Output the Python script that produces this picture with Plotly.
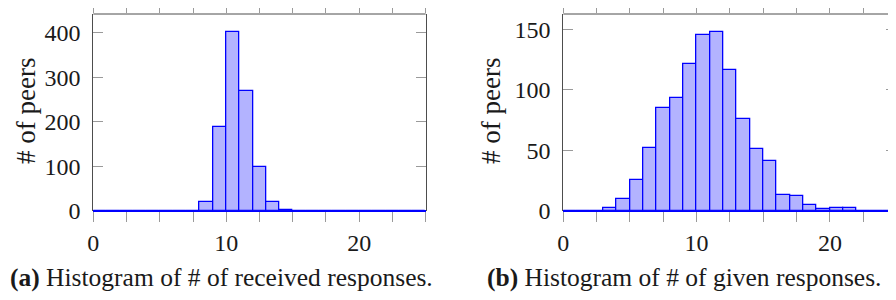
import plotly.graph_objects as go

# bins [k, k+1) for k = 0..24
bin_left = list(range(25))
received_counts = [0, 0, 0, 0, 0, 0, 0, 0, 20, 188, 402, 270, 98, 19, 2,
                   0, 0, 0, 0, 0, 0, 0, 0, 0, 0]
given_counts = [0, 0, 0, 2, 10, 25, 52, 85, 93, 121, 145, 148, 116, 76, 51,
                41, 13, 12, 5, 1, 2, 2, 0, 0, 0]

x_ticks = [0, 10, 20]
y_ticks_a = [0, 100, 200, 300, 400]
y_ticks_b = [0, 50, 100, 150]

# page body has an 8px margin; size the figure to the visible window
OFF = 8
W, H = 896 - OFF, 300 - OFF
FONT = "Liberation Serif"
TXT = "#1a1a1a"
FRAME = "#4d4d4d"
TICKC = "#9a9a9a"


def px(x):
    return (x - OFF) / W


def py(y):
    return 1 - (y - OFF) / H


fig = go.Figure()
bar_style = dict(marker=dict(color="rgb(179,179,255)",
                             line=dict(color="#0000ff", width=1.3)),
                 offset=0, width=1, showlegend=False, hoverinfo="skip")
fig.add_trace(go.Bar(x=bin_left, y=received_counts, xaxis="x", yaxis="y", **bar_style))
fig.add_trace(go.Bar(x=bin_left, y=given_counts, xaxis="x2", yaxis="y2", **bar_style))

ydom = [py(210.7), py(14)]
xdom1 = [px(93.3), px(425.7)]
xdom2 = [px(563.3), 1.0]
x2_end = (896 - 563.3) / (333.3 / 25)


def xax(dom, anchor, rng):
    return dict(domain=dom, anchor=anchor, range=rng, tickvals=x_ticks,
                ticks="outside", ticklen=10, tickwidth=1, tickcolor=TICKC,
                showline=False, mirror="ticks", automargin=False,
                showgrid=False, zeroline=False,
                minor=dict(dtick=2.5, ticks="outside", ticklen=10, tickwidth=1,
                           tickcolor=TICKC, showgrid=False),
                tickfont=dict(family=FONT, size=24, color=TXT), ticklabelstandoff=0)


def yax(dom, anchor, rng, tv):
    return dict(domain=dom, anchor=anchor, range=rng, tickvals=tv,
                ticks="inside", ticklen=10, tickwidth=1, tickcolor=TICKC,
                showline=True, linecolor=FRAME, linewidth=1, mirror="ticks",
                automargin=False, showgrid=False,
                zeroline=True, zerolinecolor="#0000ff", zerolinewidth=1.6,
                tickfont=dict(family=FONT, size=24, color=TXT), ticklabelstandoff=7)


fig.update_layout(
    width=W, height=H, margin=dict(l=0, r=0, t=0, b=0, autoexpand=False),
    paper_bgcolor="white", plot_bgcolor="white", bargap=0, showlegend=False,
    xaxis=xax(xdom1, "y", [0, 25]),
    yaxis=yax(ydom, "x", [0, 442], y_ticks_a),
    xaxis2=xax(xdom2, "y2", [0, x2_end]),
    yaxis2=yax(ydom, "x2", [0, 162.6], y_ticks_b),
    shapes=[
        dict(type="line", xref="x domain", yref="y domain", x0=0, x1=1, y0=1, y1=1,
             line=dict(color=FRAME, width=1)),
        dict(type="line", xref="x2 domain", yref="y2 domain", x0=0, x1=1, y0=1, y1=1,
             line=dict(color=FRAME, width=1)),
    ],
    annotations=[
        dict(text="# of peers", xref="paper", yref="paper", x=px(26), y=py(111),
             textangle=-90, showarrow=False, xanchor="center", yanchor="middle",
             font=dict(family=FONT, size=27, color=TXT)),
        dict(text="# of peers", xref="paper", yref="paper", x=px(491), y=py(111),
             textangle=-90, showarrow=False, xanchor="center", yanchor="middle",
             font=dict(family=FONT, size=27, color=TXT)),
        dict(text="<b>(a)</b> Histogram of # of received responses.", xref="paper", yref="paper",
             x=0, y=py(277), showarrow=False, xanchor="left", yanchor="middle",
             font=dict(family=FONT, size=25.5, color=TXT)),
        dict(text="<b>(b)</b> Histogram of # of given responses.", xref="paper", yref="paper",
             x=px(485), y=py(277), showarrow=False, xanchor="left", yanchor="middle",
             font=dict(family=FONT, size=25.5, color=TXT)),
    ],
)

fig.write_html("out.html")
